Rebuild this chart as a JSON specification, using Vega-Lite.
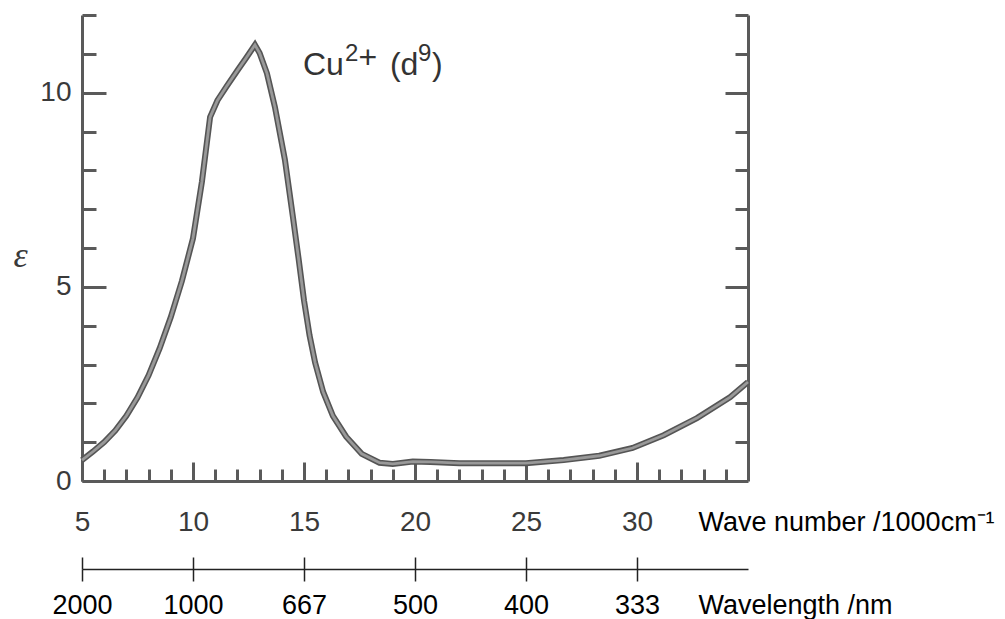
{
  "$schema": "https://vega.github.io/schema/vega-lite/v6.json",
  "width": 666,
  "height": 466,
  "autosize": "none",
  "padding": {"left": 82, "top": 15, "right": 257, "bottom": 138},
  "background": "white",
  "config": {
    "view": {"stroke": null},
    "axis": {"grid": false, "labelFont": "Liberation Sans", "titleFont": "Liberation Sans", "labelFlush": false, "labelOverlap": false}
  },
  "datasets": {
    "spectrum": [
      {"wn": 5.0, "eps": 0.54}, {"wn": 5.5, "eps": 0.76}, {"wn": 6.0, "eps": 1.0}, {"wn": 6.5, "eps": 1.3},
      {"wn": 7.0, "eps": 1.68}, {"wn": 7.5, "eps": 2.15}, {"wn": 8.0, "eps": 2.72}, {"wn": 8.5, "eps": 3.42},
      {"wn": 9.0, "eps": 4.22}, {"wn": 9.5, "eps": 5.15}, {"wn": 10.0, "eps": 6.25}, {"wn": 10.4, "eps": 7.7},
      {"wn": 10.77, "eps": 9.37}, {"wn": 11.1, "eps": 9.8}, {"wn": 11.5, "eps": 10.15}, {"wn": 12.0, "eps": 10.57},
      {"wn": 12.4, "eps": 10.9}, {"wn": 12.79, "eps": 11.23}, {"wn": 13.0, "eps": 11.02}, {"wn": 13.33, "eps": 10.5},
      {"wn": 13.69, "eps": 9.63}, {"wn": 14.14, "eps": 8.27}, {"wn": 14.5, "eps": 6.8}, {"wn": 14.75, "eps": 5.75},
      {"wn": 15.0, "eps": 4.65}, {"wn": 15.25, "eps": 3.75}, {"wn": 15.5, "eps": 3.05}, {"wn": 15.86, "eps": 2.3},
      {"wn": 16.3, "eps": 1.68}, {"wn": 16.9, "eps": 1.14}, {"wn": 17.6, "eps": 0.7}, {"wn": 18.4, "eps": 0.47},
      {"wn": 19.0, "eps": 0.44}, {"wn": 19.9, "eps": 0.5}, {"wn": 20.7, "eps": 0.49}, {"wn": 22.0, "eps": 0.46},
      {"wn": 25.0, "eps": 0.46}, {"wn": 26.7, "eps": 0.54}, {"wn": 28.3, "eps": 0.65}, {"wn": 29.8, "eps": 0.85},
      {"wn": 31.2, "eps": 1.18}, {"wn": 32.7, "eps": 1.62}, {"wn": 34.2, "eps": 2.16}, {"wn": 35.0, "eps": 2.55}
    ],
    "annot": [
      {"wn": 14.95, "eps": 10.46, "label": "Cu"},
      {"wn": 17.45, "eps": 10.64, "label": "+"},
      {"wn": 18.87, "eps": 10.46, "label": "(d"},
      {"wn": 20.77, "eps": 10.46, "label": ")"}
    ],
    "sup": [
      {"wn": 16.85, "eps": 10.82, "label": "2"},
      {"wn": 20.14, "eps": 10.82, "label": "9"}
    ]
  },
  "resolve": {"axis": {"x": "independent", "y": "independent"}},
  "layer": [
    {
      "data": {"name": "spectrum"},
      "mark": {"type": "line", "stroke": "#555555", "strokeWidth": 6},
      "encoding": {
        "x": {"field": "wn", "type": "quantitative", "scale": {"domain": [5, 35], "nice": false, "zero": false},
          "axis": {"orient": "bottom", "values": [6,7,8,9,11,12,13,14,16,17,18,19,21,22,23,24,26,27,28,29,31,32,33,34], "tickSize": -12, "tickWidth": 3, "tickColor": "#5a5a5a", "domain": true, "domainColor": "#5a5a5a", "domainWidth": 3, "labels": false, "title": null}},
        "y": {"field": "eps", "type": "quantitative", "scale": {"domain": [0, 12], "nice": false, "zero": false},
          "axis": {"orient": "left", "values": [1,2,3,4,6,7,8,9,11,12], "tickSize": -14, "tickWidth": 3, "tickColor": "#5a5a5a", "domain": true, "domainColor": "#5a5a5a", "domainWidth": 3, "labels": false, "title": null}}
      }
    },
    {
      "data": {"name": "spectrum"},
      "mark": {"type": "line", "stroke": "#999999", "strokeWidth": 2.8},
      "encoding": {
        "x": {"field": "wn", "type": "quantitative", "scale": {"domain": [5, 35], "nice": false, "zero": false},
          "axis": {"orient": "bottom", "values": [5,10,15,20,25,30], "tickSize": -19, "tickWidth": 3, "tickColor": "#5a5a5a", "domain": false,
            "labelFontSize": 28, "labelPadding": 60, "labelBaseline": "middle", "labelColor": "#3a3a3a",
            "title": "Wave number /1000cm⁻¹", "titleX": 616, "titleY": 41, "titleAlign": "left", "titleBaseline": "middle", "titleFontSize": 27, "titleFontWeight": "normal", "titleColor": "#000000"}},
        "y": {"field": "eps", "type": "quantitative", "scale": {"domain": [0, 12], "nice": false, "zero": false},
          "axis": {"orient": "left", "values": [0,5,10], "tickSize": -24, "tickWidth": 3, "tickColor": "#5a5a5a", "domain": false,
            "labelFontSize": 28, "labelPadding": 35, "labelColor": "#3a3a3a",
            "title": "ε", "titleAngle": 0, "titleX": -62, "titleY": 240, "titleAlign": "center", "titleBaseline": "middle", "titleFont": "Liberation Serif", "titleFontStyle": "italic", "titleFontWeight": "normal", "titleFontSize": 36, "titleColor": "#3a3a3a"}}
      }
    },
    {
      "data": {"name": "annot"},
      "mark": {"type": "text", "align": "left", "baseline": "alphabetic", "font": "Liberation Sans", "fontSize": 32, "color": "#333333"},
      "encoding": {
        "x": {"field": "wn", "type": "quantitative", "scale": {"domain": [5, 35], "nice": false, "zero": false},
          "axis": {"orient": "bottom", "offset": 88, "values": [5,10,15,20,25,30], "tickSize": 12, "tickWidth": 1.5, "tickColor": "#222222", "domain": true, "domainColor": "#222222", "domainWidth": 1.5,
            "labelExpr": "datum.value == 5 ? '2000' : datum.value == 10 ? '1000' : datum.value == 15 ? '667' : datum.value == 20 ? '500' : datum.value == 25 ? '400' : '333'",
            "labelFontSize": 27, "labelPadding": 24, "labelBaseline": "middle", "labelColor": "#000000",
            "title": "Wavelength /nm", "titleX": 616, "titleY": 36, "titleAlign": "left", "titleBaseline": "middle", "titleFontSize": 27, "titleFontWeight": "normal", "titleColor": "#000000"}},
        "y": {"field": "eps", "type": "quantitative", "scale": {"domain": [0, 12], "nice": false, "zero": false},
          "axis": {"orient": "right", "values": [1,2,3,4,6,7,8,9,11,12], "tickSize": -13, "tickWidth": 3, "tickColor": "#5a5a5a", "domain": true, "domainColor": "#5a5a5a", "domainWidth": 3, "labels": false, "title": null}},
        "text": {"field": "label"}
      }
    },
    {
      "data": {"name": "sup"},
      "mark": {"type": "text", "align": "left", "baseline": "alphabetic", "font": "Liberation Sans", "fontSize": 24, "color": "#333333"},
      "encoding": {
        "x": {"field": "wn", "type": "quantitative", "scale": {"domain": [5, 35], "nice": false, "zero": false},
          "axis": {"orient": "bottom", "offset": 88, "values": [5,10,15,20,25,30], "tickSize": -12, "tickWidth": 1.5, "tickColor": "#222222", "domain": false, "labels": false, "title": null}},
        "y": {"field": "eps", "type": "quantitative", "scale": {"domain": [0, 12], "nice": false, "zero": false},
          "axis": {"orient": "right", "values": [5,10], "tickSize": -23, "tickWidth": 3, "tickColor": "#5a5a5a", "domain": false, "labels": false, "title": null}},
        "text": {"field": "label"}
      }
    }
  ]
}
